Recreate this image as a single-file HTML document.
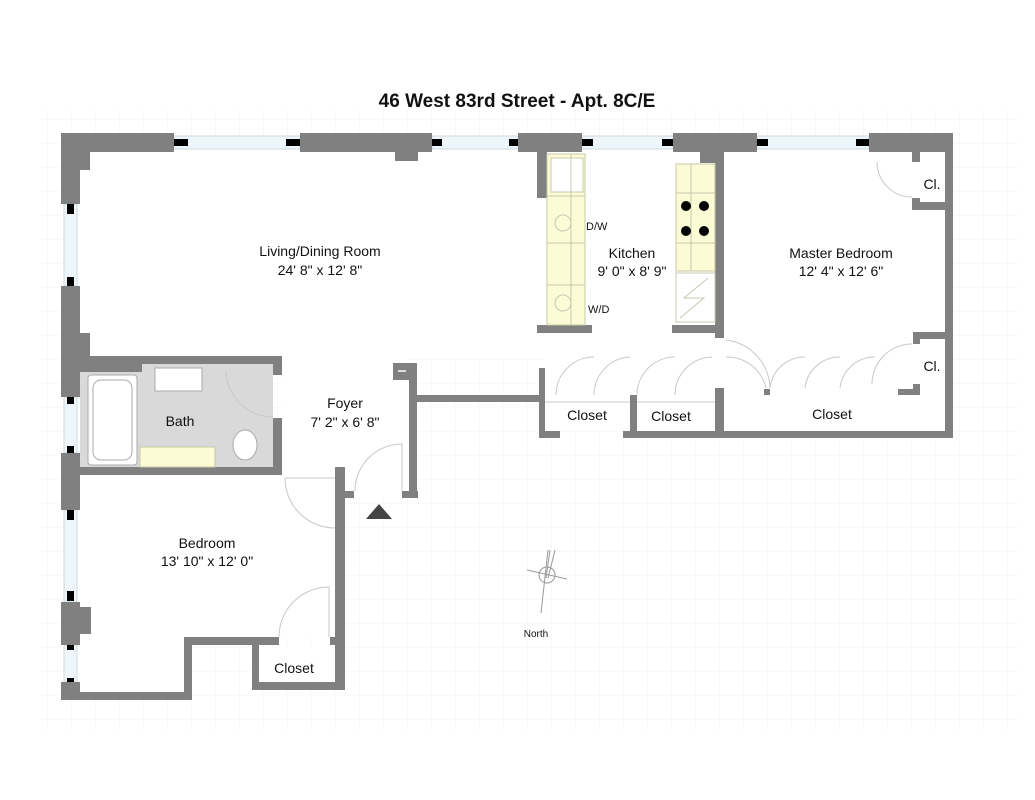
<!DOCTYPE html>
<html><head><meta charset="utf-8"><style>
html,body{margin:0;padding:0;background:#fff;}
svg{display:block;}
text{font-family:"Liberation Sans","DejaVu Sans",sans-serif;fill:#111;}
</style></head><body>
<svg width="1035" height="800" viewBox="0 0 1035 800" xmlns="http://www.w3.org/2000/svg">
<defs>
<pattern id="g" width="24" height="24" patternUnits="userSpaceOnUse"><path d="M24 0V24H0" fill="none" stroke="#f3f3f3" stroke-width="1"/></pattern>
</defs>
<rect x="40" y="110" width="980" height="620" fill="url(#g)"/>
<text x="517" y="107" text-anchor="middle" font-size="19" font-weight="bold">46 West 83rd Street - Apt. 8C/E</text>

<!-- room interiors white -->
<g fill="#fff">
<rect x="80" y="152" width="865" height="204"/>
<rect x="282" y="356" width="128" height="140"/>
<rect x="80" y="475" width="255" height="162"/>
<rect x="80" y="637" width="104" height="56"/>
<rect x="259" y="645" width="76" height="37"/>
<rect x="545" y="338" width="400" height="93"/>
</g>
<!-- bath floor -->
<rect x="80" y="364" width="193" height="103" fill="#d9d9d9"/>

<!-- windows -->
<g fill="#eef6fb" stroke="#cfd8de" stroke-width="1">
<rect x="174" y="136" width="126" height="13"/>
<rect x="432" y="136" width="86" height="13"/>
<rect x="582" y="136" width="91" height="13"/>
<rect x="757" y="136" width="112" height="13"/>
<rect x="64" y="204" width="13" height="82"/>
<rect x="64" y="397" width="13" height="56"/>
<rect x="64" y="510" width="13" height="92"/>
<rect x="64" y="645" width="13" height="37"/>
</g>
<g fill="#000">
<rect x="174" y="139" width="14" height="7"/><rect x="286" y="139" width="14" height="7"/>
<rect x="432" y="139" width="10" height="7"/><rect x="509" y="139" width="10" height="7"/>
<rect x="582" y="139" width="11" height="7"/><rect x="662" y="139" width="11" height="7"/>
<rect x="757" y="139" width="11" height="7"/><rect x="856" y="139" width="13" height="7"/>
<rect x="67" y="204" width="7" height="10"/><rect x="67" y="277" width="7" height="10"/>
<rect x="67" y="397" width="7" height="7"/><rect x="67" y="446" width="7" height="7"/>
<rect x="67" y="510" width="7" height="10"/><rect x="67" y="591" width="7" height="10"/>
<rect x="67" y="645" width="7" height="5"/><rect x="67" y="678" width="7" height="5"/>
</g>

<!-- walls -->
<g fill="#808080">
<!-- top -->
<rect x="61" y="133" width="113" height="19"/>
<rect x="61" y="152" width="29" height="18"/>
<rect x="300" y="133" width="132" height="19"/>
<rect x="395" y="152" width="23" height="9"/>
<rect x="518" y="133" width="64" height="19"/>
<rect x="673" y="133" width="84" height="19"/>
<rect x="869" y="133" width="84" height="19"/>
<!-- left -->
<rect x="61" y="133" width="19" height="71"/>
<rect x="61" y="286" width="19" height="111"/>
<rect x="80" y="333" width="10" height="23"/>
<rect x="61" y="453" width="19" height="57"/>
<rect x="61" y="602" width="19" height="43"/>
<rect x="80" y="607" width="11" height="27"/>
<rect x="61" y="682" width="19" height="18"/>
<!-- bedroom bottom -->
<rect x="61" y="692" width="131" height="8"/>
<rect x="184" y="637" width="8" height="63"/>
<rect x="184" y="637" width="95" height="8"/>
<rect x="330" y="637" width="15" height="8"/>
<rect x="252" y="637" width="7" height="53"/>
<rect x="252" y="682" width="93" height="8"/>
<rect x="335" y="467" width="10" height="223"/>
<!-- bath -->
<rect x="80" y="356" width="202" height="8"/>
<rect x="80" y="356" width="62" height="16"/>
<rect x="273" y="356" width="9" height="19"/>
<rect x="273" y="418" width="9" height="57"/>
<rect x="61" y="467" width="221" height="8"/>
<!-- foyer -->
<rect x="345" y="491" width="9" height="7"/>
<rect x="402" y="491" width="16" height="7"/>
<rect x="409" y="363" width="8" height="135"/>
<rect x="393" y="363" width="24" height="17"/>
<rect x="417" y="395" width="126" height="7"/>
<!-- kitchen -->
<rect x="537" y="152" width="10" height="46"/>
<rect x="537" y="325" width="55" height="8"/>
<rect x="672" y="325" width="52" height="8"/>
<rect x="700" y="152" width="24" height="11"/>
<rect x="715" y="152" width="9" height="186"/>
<!-- closets -->
<rect x="539" y="368" width="6" height="70"/>
<rect x="539" y="431" width="21" height="7"/>
<rect x="623" y="431" width="330" height="7"/>
<rect x="630" y="395" width="7" height="43"/>
<rect x="715" y="388" width="9" height="50"/>
<rect x="898" y="389" width="22" height="6"/>
<rect x="764" y="389" width="6" height="6"/>
<!-- right / Cl -->
<rect x="945" y="133" width="8" height="305"/>
<rect x="912" y="152" width="8" height="10"/>
<rect x="912" y="198" width="8" height="12"/>
<rect x="912" y="202" width="33" height="8"/>
<rect x="913" y="332" width="32" height="7"/>
<rect x="913" y="332" width="7" height="12"/>
<rect x="913" y="384" width="7" height="11"/>
</g>
<rect x="398" y="370" width="8" height="2" fill="#ddd"/>

<!-- kitchen fixtures -->
<g stroke="#c8c8a8" stroke-width="1" fill="#fbfbd6">
<rect x="547" y="154" width="38" height="171"/>
<rect x="676" y="164" width="39" height="107"/>
</g>
<g stroke="#c8c8b0" fill="none" stroke-width="1">
<rect x="551" y="158" width="32" height="34" fill="#fff"/>
<line x1="547" y1="196" x2="585" y2="196"/><line x1="547" y1="243" x2="585" y2="243"/><line x1="547" y1="285" x2="585" y2="285"/>
<line x1="571" y1="154" x2="571" y2="325"/>
<circle cx="563" cy="223" r="8"/><circle cx="563" cy="303" r="8"/>
<line x1="676" y1="193" x2="715" y2="193"/><line x1="676" y1="243" x2="715" y2="243"/>
<line x1="691" y1="164" x2="691" y2="271"/>
<rect x="676" y="273" width="39" height="49" fill="#fff"/>
<path d="M708 278 L684 298 L704 298 L680 318"/>
</g>
<g fill="#000"><circle cx="686" cy="206" r="5"/><circle cx="704" cy="206" r="5"/><circle cx="686" cy="231" r="5"/><circle cx="704" cy="231" r="5"/></g>

<!-- bath fixtures -->
<g stroke="#aaa" stroke-width="1" fill="#fff">
<rect x="88" y="375" width="49" height="90" rx="3"/>
<rect x="93" y="380" width="39" height="80" rx="8"/>
<rect x="155" y="368" width="47" height="23"/>
<ellipse cx="245" cy="445" rx="12" ry="15"/>
</g>
<rect x="140" y="447" width="75" height="20" fill="#fbfbd6" stroke="#c8c8a8"/>

<!-- door arcs -->
<g stroke="#c8c8c8" stroke-width="1" fill="none">
<path d="M226 370 A47 47 0 0 0 273 417"/>
<path d="M285 478 A50 50 0 0 0 335 528 M285 478 L335 478"/>
<path d="M355 491 A47 47 0 0 1 402 444 L402 491"/>
<path d="M279 637 A50 50 0 0 1 329 587 L329 637"/>
<path d="M877 162 A35 35 0 0 0 912 197"/>
<path d="M872 384 A40 40 0 0 1 912 344"/>
<path d="M556 395 A38 38 0 0 1 594 357 M594 395 A38 38 0 0 1 630 357"/>
<path d="M637 395 A38 38 0 0 1 675 357 M675 395 A38 38 0 0 1 712 357"/>
<path d="M726 340 A50 50 0 0 1 770 388 M726 357 A40 40 0 0 1 766 388"/>
<path d="M770 388 A35 35 0 0 1 805 357 M805 388 A35 35 0 0 1 840 357"/>
<path d="M840 388 A35 35 0 0 1 875 357"/>
<line x1="545" y1="402" x2="630" y2="402"/><line x1="637" y1="402" x2="715" y2="402"/>
</g>

<!-- entry triangle -->
<polygon points="379,504 392,519 366,519" fill="#444"/>

<!-- compass -->
<g stroke="#999" fill="none" stroke-width="1">
<circle cx="547" cy="575" r="8"/>
<line x1="527" y1="570" x2="567" y2="579"/>
<path d="M548 550 L541 613 M550 550 L546 578 M555 550 L548 578"/>
</g>

<!-- labels -->
<g font-size="14" text-anchor="middle">
<text x="320" y="256">Living/Dining Room</text>
<text x="320" y="275">24' 8" x 12' 8"</text>
<text x="345" y="408">Foyer</text>
<text x="345" y="427">7' 2" x 6' 8"</text>
<text x="180" y="426">Bath</text>
<text x="632" y="258">Kitchen</text>
<text x="632" y="276">9' 0" x 8' 9"</text>
<text x="841" y="258">Master Bedroom</text>
<text x="841" y="276">12' 4" x 12' 6"</text>
<text x="932" y="189">Cl.</text>
<text x="932" y="371">Cl.</text>
<text x="587" y="420">Closet</text>
<text x="671" y="421">Closet</text>
<text x="832" y="419">Closet</text>
<text x="207" y="548">Bedroom</text>
<text x="207" y="566">13' 10" x 12' 0"</text>
<text x="294" y="673">Closet</text>
</g>
<text x="586" y="230" font-size="11">D/W</text>
<text x="588" y="313" font-size="11">W/D</text>
<text x="536" y="637" font-size="10" text-anchor="middle">North</text>
</svg>
</body></html>
